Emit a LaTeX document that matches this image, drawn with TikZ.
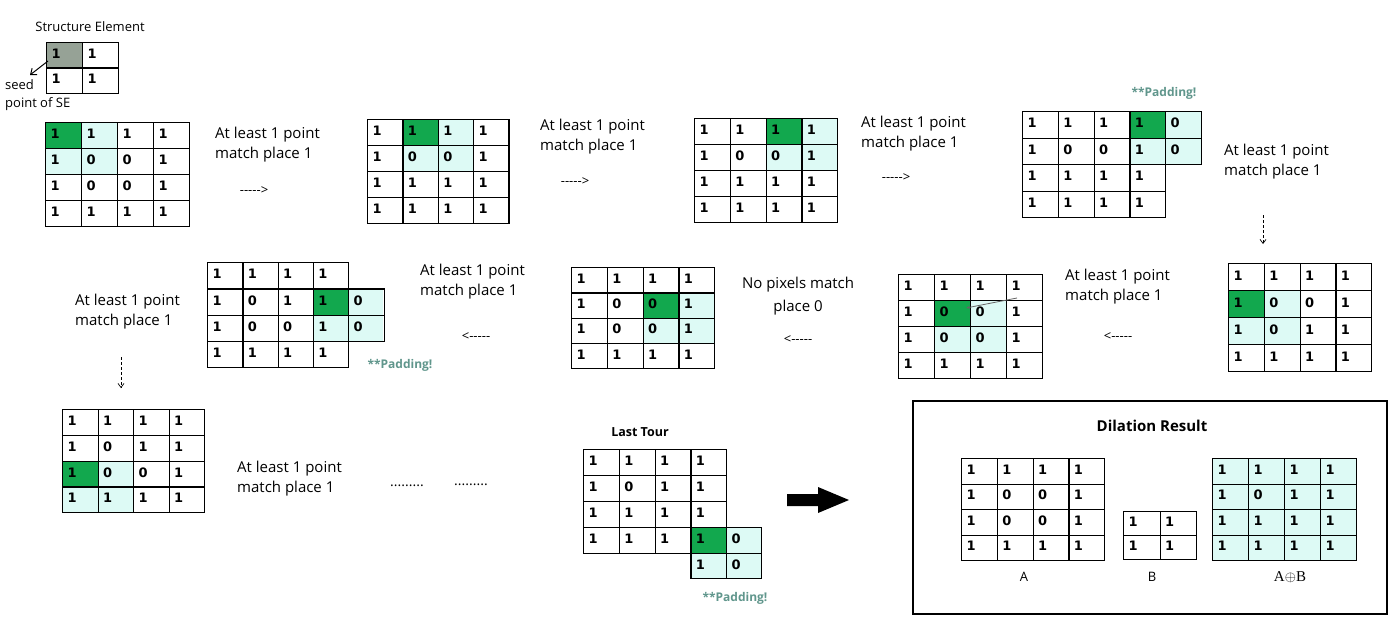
\documentclass[tikz,border=0pt]{standalone}
\usepackage{fontspec}
\setmainfont{Open Sans}
\newfontfamily\digfont{DejaVu Sans}
\usetikzlibrary{arrows.meta}
\definecolor{hlgreen}{RGB}{18,168,78}
\definecolor{hlcyan}{RGB}{221,250,245}
\definecolor{seedgray}{RGB}{150,162,150}
\definecolor{padcol}{RGB}{96,150,140}
\newcommand\dashes{\mbox{-}\mbox{-}\mbox{-}\mbox{-}\mbox{-}}
% grid: name, x, y, cell w, cell h, rows
\newcommand\mgrid[6]{%
  \pgfmathsetmacro\tw{#4-10}%
  \foreach \rowv [count=\rr] in {#6} {%
    \foreach \vv [count=\cc] in \rowv {%
      \node[cell, minimum width=#4pt, minimum height=#5pt, text width=\tw pt]
        (#1-\rr-\cc) at ({#2+(\cc-1)*#4},{#3+(\rr-1)*#5}) {\vv};
    }%
  }%
}
% single cell: name, x, y, w, h, value
\newcommand\pcell[6]{%
  \pgfmathsetmacro\tw{#4-10}%
  \node[cell, minimum width=#4pt, minimum height=#5pt, text width=\tw pt] (#1) at (#2,#3) {#6};%
}
% highlight: x, y, w, h, row, col, colour
\newcommand\hl[7]{\fill[#7] ({#1+(#6-1)*#3},{#2+(#5-1)*#4}) rectangle ++(#3,#4);}
\tikzset{
  cell/.style={draw, line width=1.3pt, anchor=north west, inner xsep=5pt, inner ysep=0pt,
    align=left, font=\digfont\bfseries\fontsize{13}{13}\selectfont, text height=9.5pt, text depth=3.5pt},
  txt/.style={inner sep=0pt, font=\fontsize{15}{20}\selectfont, align=left, anchor=west},
  arrtxt/.style={inner sep=0pt, font=\fontsize{13}{15}\selectfont},
  pad/.style={inner sep=0pt, text=padcol, font=\bfseries\fontsize{12}{14}\selectfont},
  dnarrow/.style={densely dashed, line width=0.7pt, -{Straight Barb[length=4pt,width=6pt]}},
}
\begin{document}
\begin{tikzpicture}[x=1pt,y=-1pt]
\fill[white] (0,0) rectangle (1400,634);
\useasboundingbox (0,0) rectangle (1400,634);

% ---- Structure element
\node[inner sep=0pt, font=\fontsize{13}{15}\selectfont] (setitle) at (90,27) {Structure Element};
\fill[seedgray] (46,42) rectangle ++(36,25.5);
\mgrid{se}{46}{42}{36}{25.5}{{1,1},{1,1}}
\coordinate (seedfrom) at (48,61);
\coordinate (seedto) at (30,75);
\draw[line width=1pt, -{Straight Barb[length=5pt,width=8pt]}] (seedfrom) -- (seedto);
\node[inner sep=0pt, anchor=west, font=\fontsize{13}{15}\selectfont] (seed1) at (5,85) {seed};
\node[inner sep=0pt, anchor=west, font=\fontsize{13}{15}\selectfont] (seed2) at (5,104) {point of SE};

% ---- Grid 1
\hl{45}{122}{36}{26}{1}{1}{hlgreen}
\hl{45}{122}{36}{26}{1}{2}{hlcyan}
\hl{45}{122}{36}{26}{2}{1}{hlcyan}
\hl{45}{122}{36}{26}{2}{2}{hlcyan}
\mgrid{ga1}{45}{122}{36}{26}{{1,1,1,1},{1,0,0,1},{1,0,0,1},{1,1,1,1}}
\node[txt] (t1) at (215,145) {At least 1 point\\match place 1};
\node[arrtxt] (a1) at (254,191) {\dashes>};

% ---- Grid 2
\hl{367}{119}{35.3}{26}{1}{2}{hlgreen}
\hl{367}{119}{35.3}{26}{1}{3}{hlcyan}
\hl{367}{119}{35.3}{26}{2}{2}{hlcyan}
\hl{367}{119}{35.3}{26}{2}{3}{hlcyan}
\mgrid{ga2}{367}{119}{35.3}{26}{{1,1,1,1},{1,0,0,1},{1,1,1,1},{1,1,1,1}}
\node[txt] (t2) at (540,137) {At least 1 point\\match place 1};
\node[arrtxt] (a2) at (575,182) {\dashes>};

% ---- Grid 3
\hl{694}{118}{35.75}{26}{1}{3}{hlgreen}
\hl{694}{118}{35.75}{26}{1}{4}{hlcyan}
\hl{694}{118}{35.75}{26}{2}{3}{hlcyan}
\hl{694}{118}{35.75}{26}{2}{4}{hlcyan}
\mgrid{ga3}{694}{118}{35.75}{26}{{1,1,1,1},{1,0,0,1},{1,1,1,1},{1,1,1,1}}
\node[txt] (t3) at (861,134) {At least 1 point\\match place 1};
\node[arrtxt] (a3) at (896,178) {\dashes>};

% ---- Grid 4
\node[pad] (p4) at (1164,93) {**Padding!};
\hl{1022}{111}{35.75}{26.5}{1}{4}{hlgreen}
\hl{1022}{111}{35.75}{26.5}{2}{4}{hlcyan}
\hl{1022}{111}{35.75}{26.5}{1}{5}{hlcyan}
\hl{1022}{111}{35.75}{26.5}{2}{5}{hlcyan}
\mgrid{ga4}{1022}{111}{35.75}{26.5}{{1,1,1,1},{1,0,0,1},{1,1,1,1},{1,1,1,1}}
\pcell{ga4-1-5}{1165}{111}{35.75}{26.5}{0}
\pcell{ga4-2-5}{1165}{137.5}{35.75}{26.5}{0}
\node[txt] (t4) at (1224,162) {At least 1 point\\match place 1};
\coordinate (d1a) at (1263,215);
\coordinate (d1b) at (1263,244);
\draw[dnarrow] (d1a) -- (d1b);

% ---- Grid 5
\hl{1228}{263}{35.75}{27}{2}{1}{hlgreen}
\hl{1228}{263}{35.75}{27}{2}{2}{hlcyan}
\hl{1228}{263}{35.75}{27}{3}{1}{hlcyan}
\hl{1228}{263}{35.75}{27}{3}{2}{hlcyan}
\mgrid{ga5}{1228}{263}{35.75}{27}{{1,1,1,1},{1,0,0,1},{1,0,1,1},{1,1,1,1}}
\node[txt] (t5) at (1065,287) {At least 1 point\\match place 1};
\node[arrtxt] (a5) at (1118,337) {<\dashes};

% ---- Grid 6
\hl{898}{274}{36}{26}{2}{2}{hlgreen}
\hl{898}{274}{36}{26}{2}{3}{hlcyan}
\hl{898}{274}{36}{26}{3}{2}{hlcyan}
\hl{898}{274}{36}{26}{3}{3}{hlcyan}
\mgrid{ga6}{898}{274}{36}{26}{{1,1,1,1},{1,0,0,1},{1,0,0,1},{1,1,1,1}}
\coordinate (g6a) at (1017,298);
\coordinate (g6b) at (966,308);
\draw[gray!80!black, line width=0.8pt, -{Stealth[length=4pt,width=3pt]}] (g6a) -- (g6b);

% ---- Grid 7
\hl{571}{267}{35.75}{25.25}{2}{3}{hlgreen}
\hl{571}{267}{35.75}{25.25}{2}{4}{hlcyan}
\hl{571}{267}{35.75}{25.25}{3}{3}{hlcyan}
\hl{571}{267}{35.75}{25.25}{3}{4}{hlcyan}
\mgrid{ga7}{571}{267}{35.75}{25.25}{{1,1,1,1},{1,0,0,1},{1,0,0,1},{1,1,1,1}}
\node[txt, align=center, anchor=center, font=\fontsize{15}{23}\selectfont] (t6) at (798,296) {No pixels match\\place 0};
\node[arrtxt] (a6) at (798,340) {<\dashes};

% ---- Grid 8
\hl{207}{262}{35.25}{26.25}{2}{4}{hlgreen}
\hl{207}{262}{35.25}{26.25}{3}{4}{hlcyan}
\hl{207}{262}{35.25}{26.25}{2}{5}{hlcyan}
\hl{207}{262}{35.25}{26.25}{3}{5}{hlcyan}
\mgrid{ga8}{207}{262}{35.25}{26.25}{{1,1,1,1},{1,0,1,1},{1,0,0,1},{1,1,1,1}}
\pcell{ga8-2-5}{348}{288.25}{36}{26.25}{0}
\pcell{ga8-3-5}{348}{314.5}{36}{26.25}{0}
\node[pad] (p8) at (400,365) {**Padding!};
\node[txt] (t7) at (420,282) {At least 1 point\\match place 1};
\node[arrtxt] (a7) at (476,337) {<\dashes};

% ---- left text and arrow
\node[txt] (t8) at (75,312) {At least 1 point\\match place 1};
\coordinate (d2a) at (121,357);
\coordinate (d2b) at (121,388);
\draw[dnarrow] (d2a) -- (d2b);

% ---- Grid 9
\hl{62}{409}{35.5}{25.75}{3}{1}{hlgreen}
\hl{62}{409}{35.5}{25.75}{3}{2}{hlcyan}
\hl{62}{409}{35.5}{25.75}{4}{1}{hlcyan}
\hl{62}{409}{35.5}{25.75}{4}{2}{hlcyan}
\mgrid{ga9}{62}{409}{35.5}{25.75}{{1,1,1,1},{1,0,1,1},{1,0,0,1},{1,1,1,1}}
\node[txt] (t9) at (237,479) {At least 1 point\\match place 1};
\node[inner sep=0pt, font=\fontsize{14}{16}\selectfont] (dots1) at (407,486) {.........};
\node[inner sep=0pt, font=\fontsize{14}{16}\selectfont] (dots2) at (471,485) {.........};

% ---- Grid 10 (last tour)
\node[inner sep=0pt, font=\bfseries\fontsize{12.5}{14}\selectfont] (lt) at (640,432) {Last Tour};
\hl{583}{449}{35.75}{26}{4}{4}{hlgreen}
\hl{583}{449}{35.75}{26}{4}{5}{hlcyan}
\hl{583}{449}{35.75}{26}{5}{4}{hlcyan}
\hl{583}{449}{35.75}{26}{5}{5}{hlcyan}
\mgrid{ga10}{583}{449}{35.75}{26}{{1,1,1,1},{1,0,1,1},{1,1,1,1},{1,1,1,1}}
\pcell{ga10-4-5}{726}{527}{35}{26}{0}
\pcell{ga10-5-4}{690.25}{553}{35.75}{25}{1}
\pcell{ga10-5-5}{726}{553}{35}{25}{0}
\node[pad] (p10) at (735,598) {**Padding!};

% ---- big arrow
\fill[black] (787,494) -- (818,494) -- (818,487) -- (849,500) -- (818,513) -- (818,506) -- (787,506) -- cycle;

% ---- Dilation result
\node[draw, line width=1.5pt, minimum width=474pt, minimum height=213pt, anchor=north west, inner sep=0pt] (resbox) at (912,400) {};
\node[inner sep=0pt, font=\bfseries\fontsize{15}{17}\selectfont] (restitle) at (1152,426) {Dilation Result};
\mgrid{gA}{961}{458}{35.75}{25.5}{{1,1,1,1},{1,0,0,1},{1,0,0,1},{1,1,1,1}}
\mgrid{gB}{1123}{511}{36.5}{24}{{1,1},{1,1}}
\fill[hlcyan] (1212,458) rectangle ++(144,102);
\mgrid{gAB}{1212}{458}{36}{25.5}{{1,1,1,1},{1,0,1,1},{1,1,1,1},{1,1,1,1}}
\node[inner sep=0pt, font=\fontsize{13}{15}\selectfont] (lA) at (1024,577) {A};
\node[inner sep=0pt, font=\fontsize{13}{15}\selectfont] (lB) at (1152,577) {B};
\node[inner sep=0pt, font=\fontspec{Liberation Serif}\fontsize{15}{17}\selectfont] (lAB) at (1290,577) {A$\oplus$B};
\end{tikzpicture}
\end{document}
